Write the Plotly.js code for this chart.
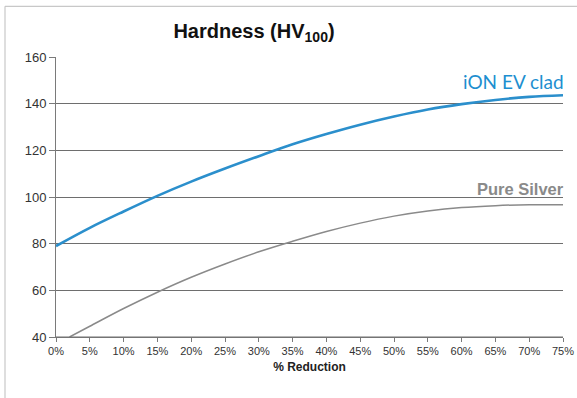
<!DOCTYPE html>
<html>
<head>
<meta charset="utf-8">
<script src="https://cdn.plot.ly/plotly-3.0.1.min.js"></script>
<style>html,body{margin:0;padding:0;background:#fff;}#chart{width:577px;height:398px;}</style>
</head>
<body>
<div id="chart"></div>
<script>
var reductionIon = [0, 5, 10, 15, 20, 25, 30, 35, 40, 45, 50, 55, 60, 65, 70, 75];
var hardnessIon = [79, 86.8, 93.8, 100.5, 106.6, 112.2, 117.5, 122.6, 127, 131, 134.5, 137.5, 139.8, 141.6, 142.9, 143.6];
var reductionSilver = [2, 5, 10, 15, 20, 25, 30, 35, 40, 45, 50, 55, 60, 65, 70, 75];
var hardnessSilver = [40, 44.6, 52.2, 59.2, 65.6, 71.3, 76.5, 81.0, 85.2, 88.8, 91.8, 94.0, 95.5, 96.3, 96.7, 96.7];
var tickVals = [0, 5, 10, 15, 20, 25, 30, 35, 40, 45, 50, 55, 60, 65, 70, 75];
var tickText = tickVals.map(function (v) { return v + '%'; });
var yTicks = [40, 60, 80, 100, 120, 140, 160];

var traces = [
  {x: reductionSilver, y: hardnessSilver, mode: 'lines', line: {color: '#8a8a8a', width: 1.5, shape: 'spline'}, hoverinfo: 'none'},
  {x: reductionIon, y: hardnessIon, mode: 'lines', line: {color: '#2b8fcc', width: 2.6, shape: 'spline'}, hoverinfo: 'none'}
];

var layout = {
  width: 577, height: 398,
  margin: {l: 56, r: 14, t: 56.7, b: 61.3},
  paper_bgcolor: '#ffffff', plot_bgcolor: '#ffffff',
  showlegend: false,
  font: {family: 'Liberation Sans, Arial, sans-serif', color: '#333333'},
  title: {text: '<b>Hardness (HV<sub>100</sub>)</b>', font: {size: 20, color: '#111111', family: 'Liberation Sans, Arial, sans-serif'},
          x: 254 / 577, xanchor: 'center', xref: 'container', y: 1 - 31 / 398, yanchor: 'middle', yref: 'container'},
  xaxis: {
    range: [0, 75], tickvals: tickVals, ticktext: tickText,
    showgrid: false, zeroline: false, showline: true, linecolor: '#7a7a7a', linewidth: 1,
    ticks: 'outside', ticklen: 4, tickcolor: '#7a7a7a', tickfont: {size: 11, color: '#333333'},
    title: {text: '<b>% Reduction</b>', font: {size: 12, color: '#222222'}, standoff: 6}
  },
  yaxis: {
    range: [40, 160], tickvals: yTicks,
    showgrid: true, gridcolor: '#6e6e6e', gridwidth: 1, zeroline: false,
    showline: true, linecolor: '#7a7a7a', linewidth: 1,
    ticks: 'outside', ticklen: 6, tickcolor: '#7a7a7a', tickfont: {size: 13, color: '#333333'}
  },
  shapes: [
    {type: 'line', xref: 'paper', yref: 'paper', x0: 0, x1: 1, y0: 0, y1: 0, line: {color: '#6e6e6e', width: 1}},
    {type: 'line', xref: 'paper', yref: 'paper', x0: (5 - 56) / 507, x1: 1.03, y0: 1 + (56.7 - 6) / 280, y1: 1 + (56.7 - 6) / 280, line: {color: '#c8c8c8', width: 1.2}},
    {type: 'line', xref: 'paper', yref: 'paper', x0: (5 - 56) / 507, x1: (5 - 56) / 507, y0: 1 + (56.7 - 6) / 280, y1: -0.3, line: {color: '#c8c8c8', width: 1.2}}
  ],
  annotations: [
    {text: 'iON EV clad', x: 75, y: 149.5, xref: 'x', yref: 'y', xanchor: 'right', yanchor: 'middle', showarrow: false, xshift: 3,
     font: {family: 'Lato, Open Sans, sans-serif', size: 19, color: '#1d8fd0'}},
    {text: '<b>Pure Silver</b>', x: 75, y: 103.6, xref: 'x', yref: 'y', xanchor: 'right', yanchor: 'middle', showarrow: false, xshift: 3,
     font: {family: 'Liberation Sans, Arial, sans-serif', size: 16.5, color: '#8a8a8a'}}
  ]
};

Plotly.newPlot('chart', traces, layout, {staticPlot: true, displayModeBar: false});
</script>
</body>
</html>
